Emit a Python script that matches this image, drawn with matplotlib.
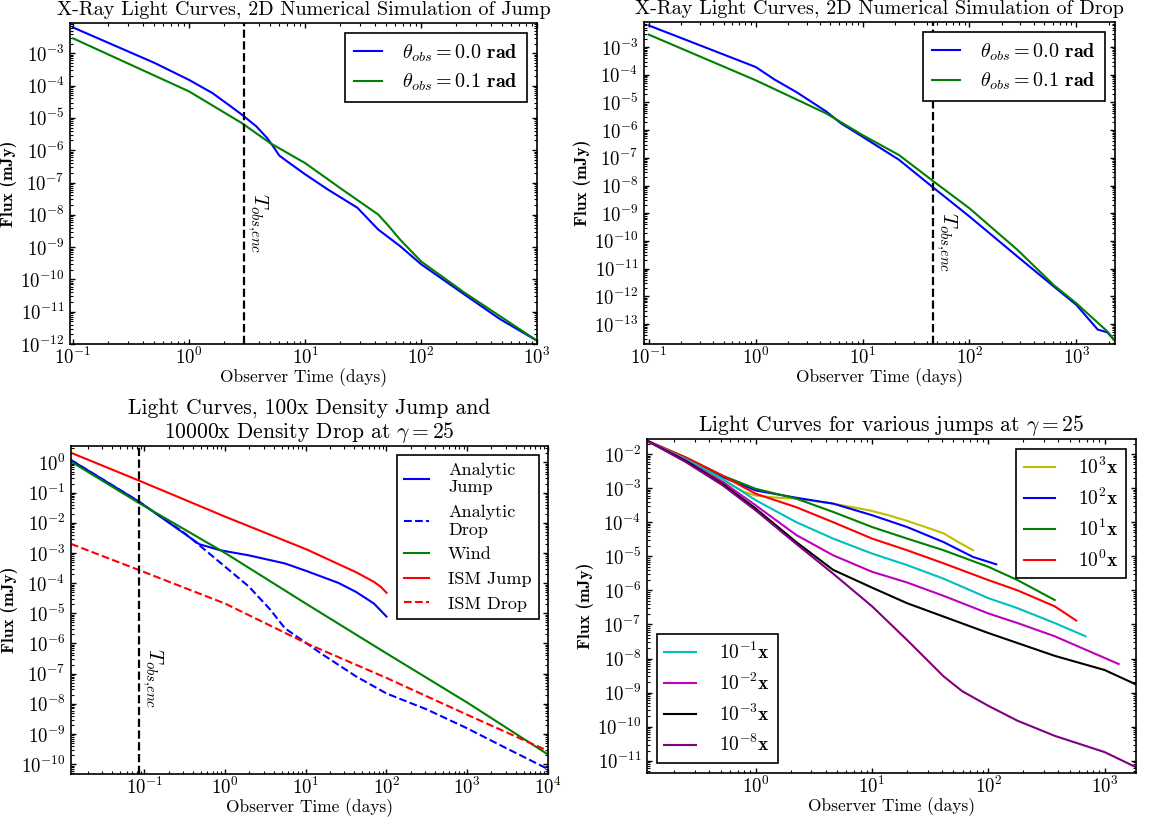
import numpy as np
import matplotlib
matplotlib.use("Agg")
import matplotlib.pyplot as plt
import matplotlib.transforms as mtransforms
from matplotlib.ticker import LogLocator, NullFormatter

# Fonts: Computer Modern look
plt.rcParams['font.family'] = 'serif'
plt.rcParams['font.serif'] = ['cmr10']
plt.rcParams['mathtext.fontset'] = 'cm'
plt.rcParams['axes.formatter.use_mathtext'] = True
plt.rcParams['axes.unicode_minus'] = False

# ---- (a) 2D simulation of jump ----
jump_t0 = [0.1, 0.5, 1.0, 1.585, 2.3, 2.85, 3.79, 4.7, 5.42, 6.0, 6.95, 10, 15.8, 28.2, 42.7, 66,
           100, 234, 479, 1000]
jump_f0 = [6.3e-3, 5.1e-4, 1.5e-4, 5.9e-5, 2.24e-5, 1.26e-5, 5.5e-6, 2.4e-6, 1.17e-6, 6.8e-7, 4.6e-7,
           1.8e-7, 6.0e-8, 1.66e-8, 3.5e-9, 1.07e-9, 2.95e-10, 3.5e-11, 5.9e-12, 1.26e-12]
jump_t1 = [0.1, 1.0, 2.85, 5.0, 10, 21, 42.7, 52.5, 66, 100, 234, 1000]
jump_f1 = [2.9e-3, 6.6e-5, 6.9e-6, 1.66e-6, 4.0e-7, 6.0e-8, 1.02e-8, 4.5e-9, 1.7e-9, 3.6e-10,
           4.0e-11, 1.26e-12]
jump_tenc = 2.98

# ---- (b) 2D simulation of drop ----
drop_t0 = [0.1, 1.0, 1.51, 2.43, 4.57, 6.3, 10, 21.9, 46.8, 100, 282, 617, 1000, 1585, 1950, 2290]
drop_f0 = [6.0e-3, 1.9e-4, 6.6e-5, 2.3e-5, 4.7e-6, 1.74e-6, 5.75e-7, 8.5e-8, 7.9e-9, 7.6e-10,
           2.7e-11, 2.24e-12, 4.9e-13, 6.3e-14, 5.0e-14, 2.5e-14]
drop_t1 = [0.1, 1.0, 4.57, 10, 21.9, 46.8, 100, 282, 617, 1000, 1950, 2290]
drop_f1 = [2.8e-3, 6.3e-5, 4.0e-6, 6.6e-7, 1.26e-7, 1.35e-8, 1.5e-9, 4.7e-11, 2.5e-12, 5.6e-13,
           5.4e-14, 2.5e-14]
drop_tenc = 46.0

# ---- (c) analytic curves ----
ana_jump_t = [0.0123, 0.086, 0.32, 0.48, 0.87, 1.98, 5.5, 10.3, 25.3, 42, 70, 100]
ana_jump_f = [1.2, 0.05, 4.2e-3, 1.95e-3, 1.23e-3, 8.3e-4, 4.5e-4, 2.5e-4, 1.02e-4, 5.1e-5, 2.1e-5, 7.8e-6]
ana_drop_t = [0.0123, 0.086, 0.32, 0.43, 1.0, 1.98, 3.65, 5.5, 10.3, 15.2, 42, 100, 316, 970, 2970, 10000]
ana_drop_f = [1.2, 0.05, 4.4e-3, 2.3e-3, 3.5e-4, 7.6e-5, 1.3e-5, 3.2e-6, 1.0e-6, 4.8e-7, 8.1e-8,
              2.2e-8, 6.5e-9, 1.6e-9, 3.5e-10, 6.9e-11]
wind_t = [0.0123, 0.086, 1.0, 10, 100, 1000, 10000]
wind_f = [1.07, 0.045, 1.0e-3, 2.1e-5, 4.7e-7, 1.1e-8, 2.1e-10]
ism_jump_t = [0.0123, 0.086, 1.0, 10.3, 42, 70, 84.7, 100]
ism_jump_f = [2.1, 0.25, 0.016, 1.3e-3, 2.3e-4, 1.1e-4, 7.6e-5, 4.8e-5]
ism_drop_t = [0.0123, 0.086, 1.0, 10.3, 100, 970, 10000]
ism_drop_f = [2.0e-3, 2.7e-4, 2.1e-5, 1.0e-6, 7.2e-8, 4.5e-9, 2.75e-10]
ana_tenc = 0.086

# ---- (d) various jumps ----
t_a = [0.116, 0.25, 0.52, 1.0, 2.23, 4.62, 10, 20, 41.2]
f_1e3_t = [0.116, 0.25, 0.52, 0.80, 1.0, 1.55, 2.23, 4.62, 9.6, 13.8, 19.9, 28.7, 41.2, 55.2, 74]
f_1e3 = [0.0245, 6.5e-3, 1.66e-3, 7.6e-4, 6.0e-4, 5.2e-4, 4.9e-4, 3.5e-4, 2.2e-4, 1.6e-4, 1.1e-4,
         7.2e-5, 4.7e-5, 2.6e-5, 1.5e-5]
f_1e2_t = t_a + [74, 117]
f_1e2 = [0.0245, 7.1e-3, 2.1e-3, 8.5e-4, 5.2e-4, 3.5e-4, 1.6e-4, 7.2e-5, 2.6e-5, 9.5e-6, 5.8e-6]
f_1e1_t = t_a + [100, 178, 372]
f_1e1 = [0.0245, 7.9e-3, 2.3e-3, 9.5e-4, 4.9e-4, 2.0e-4, 7.2e-5, 3.3e-5, 1.5e-5, 4.9e-6, 2.0e-6, 5.2e-7]
f_1e0_t = t_a + [100, 178, 372, 570]
f_1e0 = [0.0245, 7.9e-3, 2.3e-3, 6.8e-4, 2.75e-4, 1.0e-4, 3.3e-5, 1.5e-5, 6.2e-6, 2.0e-6, 1.0e-6,
         3.4e-7, 1.3e-7]
f_1em1_t = t_a + [100, 178, 372, 684]
f_1em1 = [0.0245, 7.1e-3, 1.86e-3, 4.4e-4, 1.0e-4, 3.3e-5, 1.2e-5, 5.5e-6, 2.2e-6, 5.9e-7, 3.0e-7,
          1.1e-7, 4.5e-8]
f_1em2_t = t_a + [100, 178, 372, 1320]
f_1em2 = [0.0245, 6.5e-3, 1.5e-3, 3.1e-4, 4.2e-5, 1.07e-5, 3.5e-6, 1.7e-6, 6.9e-7, 2.1e-7, 1.1e-7,
          4.5e-8, 6.9e-9]
f_1em3_t = t_a + [100, 372, 1000, 1860]
f_1em3 = [0.0245, 6.2e-3, 1.3e-3, 2.5e-4, 2.6e-5, 4.0e-6, 1.2e-6, 4.2e-7, 1.7e-7, 5.6e-8, 1.2e-8,
          4.6e-9, 1.74e-9]
f_1em8_t = t_a + [59.6, 100, 178, 372, 1000, 1860]
f_1em8 = [0.0245, 5.8e-3, 1.2e-3, 2.2e-4, 2.3e-5, 3.1e-6, 3.4e-7, 3.5e-8, 3.0e-9, 1.1e-9, 4.1e-10,
          1.5e-10, 5.4e-11, 1.8e-11, 6.5e-12]


def style_axes(ax):
    ax.set_xscale('log')
    ax.set_yscale('log')
    for axis in (ax.xaxis, ax.yaxis):
        axis.set_major_locator(LogLocator(base=10, numticks=40))
        axis.set_minor_locator(LogLocator(base=10, subs=np.arange(2, 10), numticks=40))
        axis.set_minor_formatter(NullFormatter())
    ax.tick_params(which='both', direction='in', top=True, right=True, labelsize=13.5)
    ax.tick_params(which='major', length=3.5, width=1)
    ax.tick_params(axis='x', which='major', pad=2)
    ax.tick_params(axis='y', which='major', pad=4)
    ax.tick_params(which='minor', length=2, width=0.8)
    for s in ax.spines.values():
        s.set_linewidth(1.2)
    ax.set_xlabel('Observer Time (days)', fontsize=12.5, labelpad=0)
    ax.set_ylabel('Flux (mJy)', fontsize=12.5, fontfamily='cmb10', labelpad=2)


def enc_line(ax, t, yfrac):
    ax.axvline(t, color='k', ls='--', lw=1.6)
    trans = mtransforms.blended_transform_factory(ax.transData, ax.transAxes)
    ax.text(t * 1.02, yfrac, r'$T_{obs{,}enc}$', rotation=-90, fontsize=15,
            ha='left', va='top', transform=trans)


leg_kw = dict(fancybox=False, edgecolor='k', framealpha=1)

fig = plt.figure(figsize=(11.52, 8.21), dpi=100)

# (a)
axA = fig.add_axes([0.0608, 0.581, 0.4054, 0.391])
axA.plot(jump_t0, jump_f0, color='b', lw=1.5, label=r'$\theta_{obs} = 0.0\ \mathbf{rad}$')
axA.plot(jump_t1, jump_f1, color='g', lw=1.5, label=r'$\theta_{obs} = 0.1\ \mathbf{rad}$')
style_axes(axA)
enc_line(axA, jump_tenc, 0.47)
axA.set_xlim(0.094, 1000)
axA.set_ylim(1e-12, 8.7e-3)
axA.set_title('X-Ray Light Curves, 2D Numerical Simulation of Jump', fontsize=14.5)
l = axA.legend(loc='upper right', fontsize=14.5, handlelength=1.4, handletextpad=1.0,
               labelspacing=0.4, borderpad=0.45, **leg_kw)
l.get_frame().set_linewidth(1.2)

# (b)
axB = fig.add_axes([0.559, 0.581, 0.4089, 0.392])
axB.plot(drop_t0, drop_f0, color='b', lw=1.5, label=r'$\theta_{obs} = 0.0\ \mathbf{rad}$')
axB.plot(drop_t1, drop_f1, color='g', lw=1.5, label=r'$\theta_{obs} = 0.1\ \mathbf{rad}$')
style_axes(axB)
enc_line(axB, drop_tenc, 0.41)
axB.set_xlim(0.09, 2300)
axB.set_ylim(1.9e-14, 7.9e-3)
axB.set_title('X-Ray Light Curves, 2D Numerical Simulation of Drop', fontsize=14.5)
l = axB.legend(loc='upper right', fontsize=14.5, handlelength=1.4, handletextpad=1.0,
               labelspacing=0.4, borderpad=0.45, **leg_kw)
l.get_frame().set_linewidth(1.2)

# (c)
axC = fig.add_axes([0.0616, 0.0572, 0.414, 0.3995])
axC.plot(ana_jump_t, ana_jump_f, color='b', lw=1.5, label='Analytic\nJump')
axC.plot(ana_drop_t, ana_drop_f, color='b', lw=1.5, ls='--', label='Analytic\nDrop')
axC.plot(wind_t, wind_f, color='g', lw=1.5, label='Wind')
axC.plot(ism_jump_t, ism_jump_f, color='r', lw=1.5, label='ISM Jump')
axC.plot(ism_drop_t, ism_drop_f, color='r', lw=1.5, ls='--', label='ISM Drop')
style_axes(axC)
enc_line(axC, ana_tenc, 0.385)
axC.set_xlim(0.0123, 1e4)
axC.set_ylim(4.7e-11, 3.5)
axC.set_title('Light Curves, 100x Density Jump and\n10000x Density Drop at $\\gamma = 25$',
              fontsize=15.5, linespacing=1.1)
l = axC.legend(loc='upper right', fontsize=13, handlelength=1.4, handletextpad=1.05, **leg_kw)
l.get_frame().set_linewidth(1.2)

# (d)
axD = fig.add_axes([0.5616, 0.0585, 0.4245, 0.4068])
h1 = axD.plot(f_1e3_t, f_1e3, color='y', lw=1.5, label=r'$10^{3}\mathbf{x}$')
h2 = axD.plot(f_1e2_t, f_1e2, color='b', lw=1.5, label=r'$10^{2}\mathbf{x}$')
h3 = axD.plot(f_1e1_t, f_1e1, color='g', lw=1.5, label=r'$10^{1}\mathbf{x}$')
h4 = axD.plot(f_1e0_t, f_1e0, color='r', lw=1.5, label=r'$10^{0}\mathbf{x}$')
h5 = axD.plot(f_1em1_t, f_1em1, color='c', lw=1.5, label=r'$10^{-1}\mathbf{x}$')
h6 = axD.plot(f_1em2_t, f_1em2, color='m', lw=1.5, label=r'$10^{-2}\mathbf{x}$')
h7 = axD.plot(f_1em3_t, f_1em3, color='k', lw=1.5, label=r'$10^{-3}\mathbf{x}$')
h8 = axD.plot(f_1em8_t, f_1em8, color='purple', lw=1.5, label=r'$10^{-8}\mathbf{x}$')
style_axes(axD)
axD.set_xlim(0.116, 1860)
axD.set_ylim(4.4e-12, 0.0275)
axD.set_title('Light Curves for various jumps at $\\gamma = 25$', fontsize=15.5)
legU = axD.legend(handles=h1 + h2 + h3 + h4, loc='upper right', fontsize=14,
                  handlelength=1.6, handletextpad=1.2, **leg_kw)
legU.get_frame().set_linewidth(1.2)
axD.add_artist(legU)
legL = axD.legend(handles=h5 + h6 + h7 + h8, loc='lower left', fontsize=14,
                  handlelength=1.6, handletextpad=1.2, **leg_kw)
legL.get_frame().set_linewidth(1.2)

fig.savefig('out.png', dpi=100)
